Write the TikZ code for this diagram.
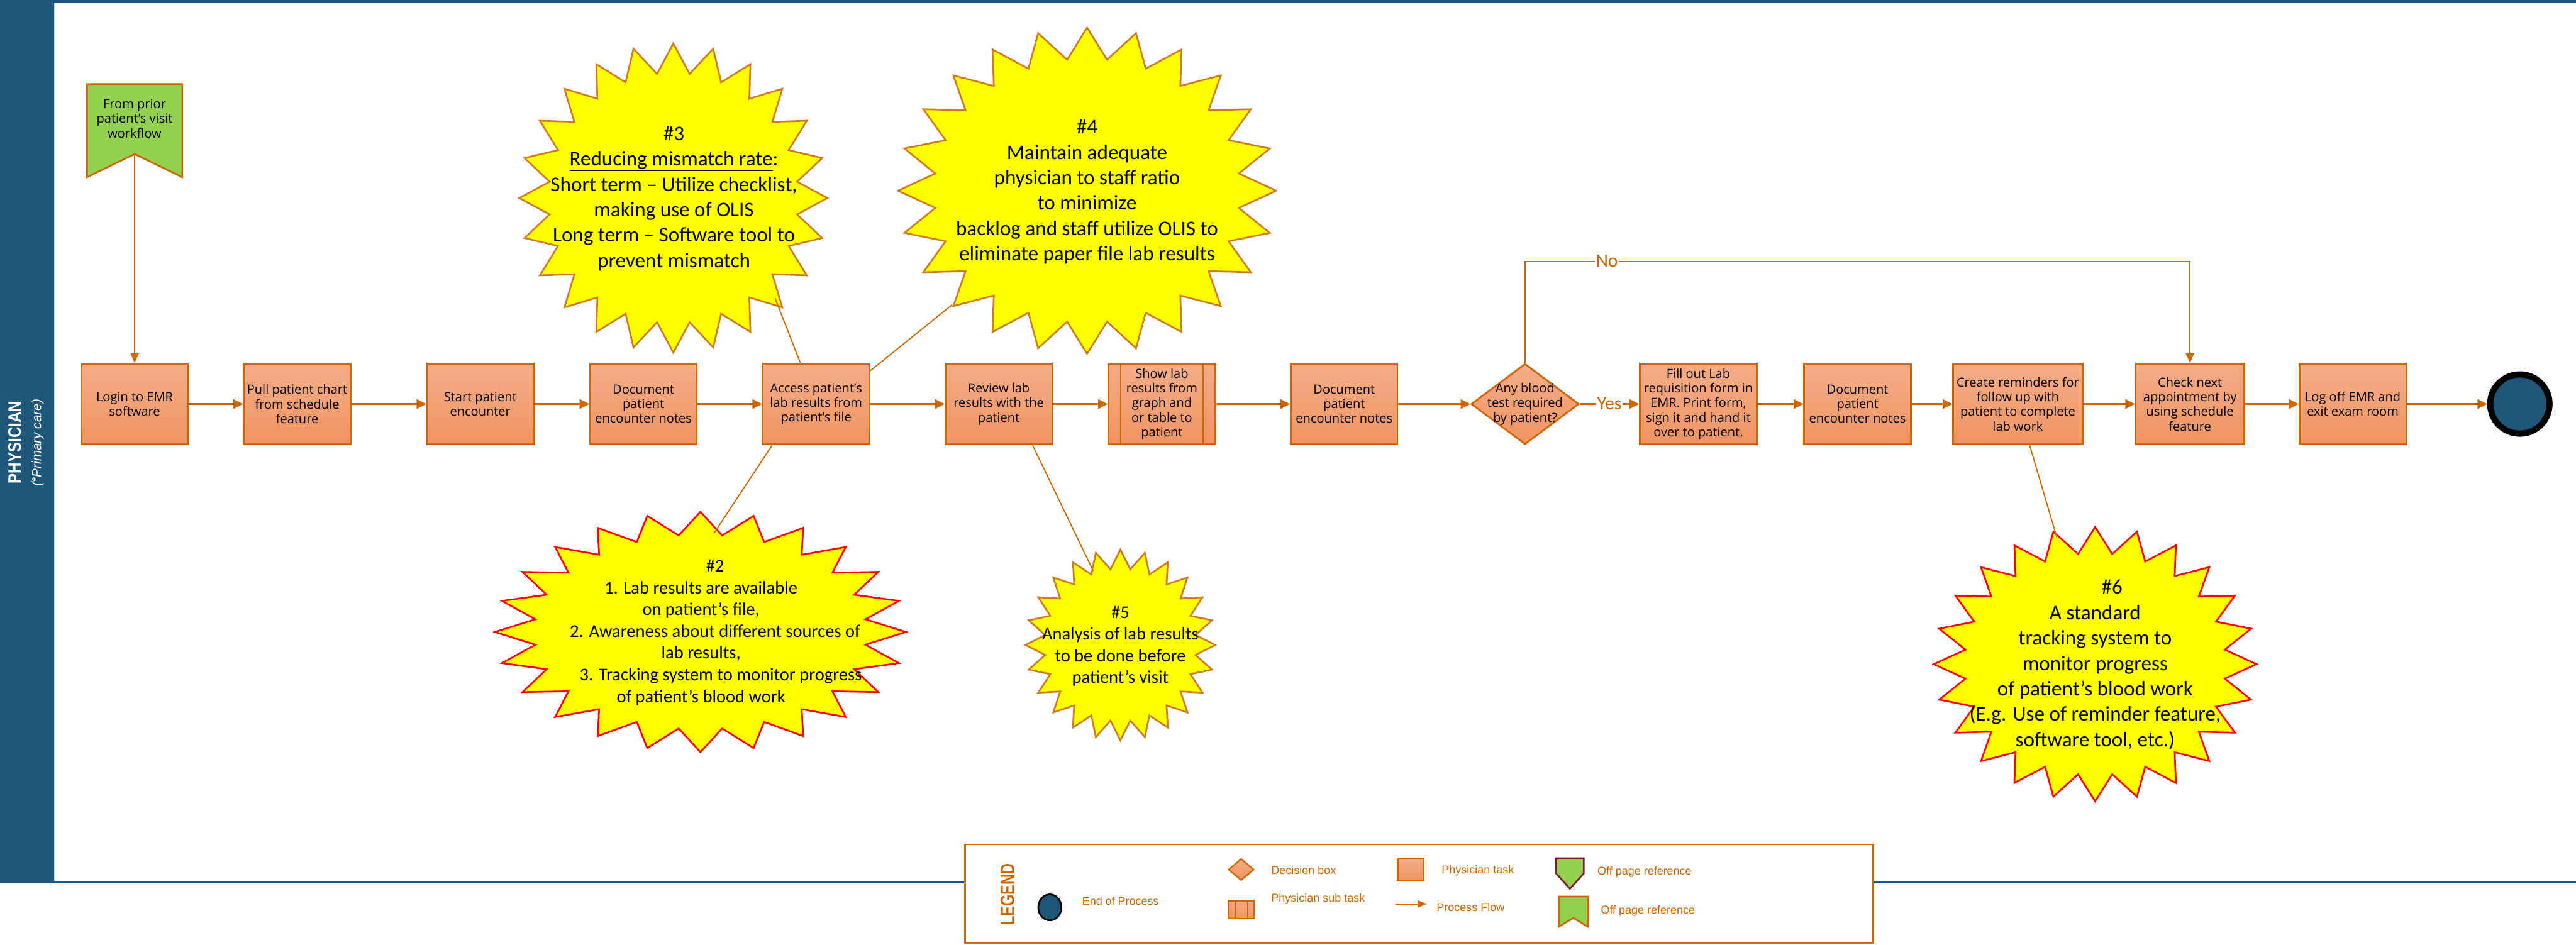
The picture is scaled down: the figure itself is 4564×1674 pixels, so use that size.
\documentclass[tikz,border=0pt]{standalone}
\usepackage{fontspec}
\usepackage{graphicx}
\setmainfont{Open Sans}
\newfontfamily\calib{Carlito}
\newfontfamily\arialf{Liberation Sans}
\usetikzlibrary{arrows.meta,shapes.geometric,calc}

\definecolor{laneblue}{RGB}{31,87,122}
\definecolor{lanerim}{RGB}{200,212,222}
\definecolor{lineorange}{RGB}{204,102,0}
\definecolor{boxtop}{RGB}{244,173,137}
\definecolor{boxbot}{RGB}{240,148,96}
\definecolor{refgreen}{RGB}{146,208,80}
\definecolor{burstyellow}{RGB}{255,255,0}
\definecolor{burstorange}{RGB}{206,124,34}
\definecolor{burstred}{RGB}{255,0,0}
\definecolor{refred}{RGB}{120,32,48}

\newcommand{\taskfont}{\fontsize{12.7pt}{14.8pt}\selectfont}
\newcommand{\bigburstfont}{\calib\fontsize{21pt}{25.6pt}\selectfont}
\newcommand{\smallburstfont}{\calib\fontsize{18.1pt}{21.9pt}\selectfont}
\newcommand{\yesnofont}{\calib\fontsize{18.8pt}{22pt}\selectfont}
\newcommand{\legendtextfont}{\arialf\fontsize{11.4pt}{13pt}\selectfont}
\newcommand{\legendtitlefont}{\arialf\bfseries\fontsize{19.9pt}{24pt}\selectfont}
\newcommand{\lanefont}{\arialf\bfseries\fontsize{18.2pt}{22pt}\selectfont}
\newcommand{\lanesubfont}{\arialf\itshape\fontsize{13.1pt}{16pt}\selectfont}

% 24-point star on an ellipse: cx, cy, rx, ry, outline colour, inner/outer ratio
\newcommand{\drawburst}[6]{%
  \draw[burst, draw=#5] plot[samples=49, domain=0:48, variable=\idx]
    ({#1+#3*(1-(1-#6)*mod(\idx,2))*cos(90+7.5*\idx)},
     {#2-#4*(1-(1-#6)*mod(\idx,2))*sin(90+7.5*\idx)}) -- cycle;}

\begin{document}
\begin{tikzpicture}[x=0.2mm,y=-0.2mm,
  task/.style={rectangle, draw=lineorange, line width=0.6mm, top color=boxtop,
    bottom color=boxbot, minimum width=37.8mm, minimum height=28.6mm,
    inner sep=0pt, align=center, font=\taskfont},
  decision/.style={diamond, draw=lineorange, line width=0.6mm, top color=boxtop,
    bottom color=boxbot, minimum width=38.2mm, minimum height=28.6mm, inner sep=0pt},
  flow/.style={draw=lineorange, line width=0.5mm, -{Triangle[length=3.4mm, width=3.4mm]}},
  thinflow/.style={draw=lineorange, line width=0.4mm, -{Triangle[length=3.4mm, width=3mm]}},
  link/.style={draw=lineorange, line width=0.4mm},
  flowlabel/.style={fill=white, text=lineorange, font=\yesnofont, inner sep=1pt},
  burst/.style={fill=burstyellow, line width=0.6mm, line join=miter},
  bursttext/.style={align=center, inner sep=0pt, text=black},
  legtext/.style={anchor=west, inner sep=0pt, text=lineorange, font=\legendtextfont},
  legshape/.style={draw=lineorange, line width=0.5mm, top color=boxtop,
    bottom color=boxbot, inner sep=0pt},
  legflow/.style={draw=lineorange, line width=0.5mm, -{Triangle[length=3.2mm, width=2.4mm]}}
]
\useasboundingbox (0,0) rectangle (4564,1674);
\fill[white] (0,0) rectangle (4564,1674);

% swimlane
\fill[laneblue] (0,0) rectangle (96,1563);
\fill[laneblue] (0,0) rectangle (4564,6);
\draw[laneblue, line width=0.8mm] (0,1563) -- (4564,1563);
\draw[lanerim, line width=0.4mm] (97,6) -- (97,1561);
\node[rotate=90, text=white, font=\lanefont] (lanename) at (26,784) {\scalebox{0.84}[1]{PHYSICIAN}};
\node[rotate=90, text=white, font=\lanesubfont] (lanenote) at (67,785) {(*Primary care)};

% improvement notes
\drawburst{1193}{351}{273}{274}{burstorange}{0.81}
\drawburst{1926}{338}{335}{289}{burstorange}{0.81}
\drawburst{1241}{1120}{364}{213}{burstred}{0.81}
\drawburst{1985}{1143}{168}{169}{burstorange}{0.80}
\drawburst{3712}{1177}{286}{243}{burstred}{0.81}

\node[bursttext, font=\bigburstfont] (note3) at (1194,352)
  {\#3\\\underline{Reducing mismatch rate}:\\Short term – Utilize checklist,\\making use of OLIS\\Long term – Software tool to\\prevent mismatch};
\node[bursttext, font=\bigburstfont] (note4) at (1926,340)
  {\#4\\Maintain adequate\\physician to staff ratio\\to minimize\\backlog and staff utilize OLIS to\\eliminate paper file lab results};
\node[bursttext, font=\smallburstfont] (note2) at (1242,1121)
  {\hspace*{10mm}\#2\\1. Lab results are available\\on patient’s file,\\\hspace*{10mm}2. Awareness about different sources of\\lab results,\\\hspace*{14mm}3. Tracking system to monitor progress\\of patient’s blood work};
\node[bursttext, font=\smallburstfont] (note5) at (1985,1145)
  {\#5\\Analysis of lab results\\to be done before\\patient’s visit};
\node[bursttext, font=\bigburstfont] (note6) at (3712,1178)
  {\hspace*{12mm}\#6\\A standard\\tracking system to\\monitor progress\\of patient’s blood work\\(E.g. Use of reminder feature,\\software tool, etc.)};

\coordinate (note3foot) at (1373,528);
\coordinate (note4foot) at (1687,540);
\coordinate (note2top) at (1265,945);
\coordinate (note5top) at (1937,1012);
\coordinate (note6top) at (3644,952);

% off page reference at the start
\draw[lineorange, line width=0.6mm, fill=refgreen]
  (154,149) -- (323,149) -- (323,314) -- (238.5,273) -- (154,314) -- cycle;
\node[font=\taskfont, align=center, inner sep=0pt] (prior) at (238.5,210) {From prior\\patient’s visit\\workflow};
\coordinate (priornotch) at (238.5,273);

% physician tasks
\node[task] (login) at (238.5,716) {Login to EMR\\software};
\node[task] (pull) at (526.5,716) {Pull patient chart\\from schedule\\feature};
\node[task] (start) at (851,716) {Start patient\\encounter};
\node[task] (doc1) at (1140,716) {Document\\patient\\encounter notes};
\node[task] (access) at (1446,716) {Access patient’s\\lab results from\\patient’s file};
\node[task] (review) at (1769.5,716) {Review lab\\results with the\\patient};
\node[task] (show) at (2058.5,716) {Show lab\\results from\\graph and\\or table to\\patient};
\draw[lineorange, line width=0.6mm] ($(show.north west)+(23,0)$) -- ($(show.south west)+(23,0)$);
\draw[lineorange, line width=0.6mm] ($(show.north east)+(-23,0)$) -- ($(show.south east)+(-23,0)$);
\node[task] (doc2) at (2381.5,716) {Document\\patient\\encounter notes};
\node[decision] (dia) at (2702,716) {};
\node[font=\taskfont, align=center, inner sep=0pt] (diatext) at (dia) {Any blood\\test required\\by patient?};
\node[task, minimum width=41.4mm] (fill) at (3009,716) {Fill out Lab\\requisition form in\\EMR. Print form,\\sign it and hand it\\over to patient.};
\node[task] (doc3) at (3291,716) {Document\\patient\\encounter notes};
\node[task, minimum width=45.8mm] (create) at (3575,716) {Create reminders for\\follow up with\\patient to complete\\lab work};
\node[task, minimum width=38.4mm] (check) at (3880,716) {Check next\\appointment by\\using schedule\\feature};
\node[task] (logoff) at (4168.5,716) {Log off EMR and\\exit exam room};
\node[circle, draw=black, line width=2.2mm, fill=laneblue, minimum size=21mm, inner sep=0pt] (endc) at (4464.5,716) {};

% note connectors
\draw[link] ($(access.north)+(-28,0)$) -- (note3foot);
\draw[link] ($(access.north east)+(0,14)$) -- (note4foot);
\draw[link] ($(access.south)+(-78,0)$) -- (note2top);
\draw[link] ($(review.south)+(60,0)$) -- (note5top);
\draw[link] ($(create.south)+(21,0)$) -- (note6top);

% process flow
\draw[thinflow] (priornotch) -- (login);
\draw[flow] (login) -- (pull);
\draw[flow] (pull) -- (start);
\draw[flow] (start) -- (doc1);
\draw[flow] (doc1) -- (access);
\draw[flow] (access) -- (review);
\draw[flow] (review) -- (show);
\draw[flow] (show) -- (doc2);
\draw[flow] (doc2) -- (dia);
\draw[flow] (dia) -- node[flowlabel] {Yes} (fill);
\draw[flow] (fill) -- (doc3);
\draw[flow] (doc3) -- (create);
\draw[flow] (create) -- (check);
\draw[flow] (check) -- (logoff);
\draw[flow] (logoff) -- (endc);
\coordinate (nobend) at (2702,463);
\draw[thinflow] (dia.north) -- (nobend) -| node[flowlabel, pos=0.0616] {No} (check.north);

% legend
\node[draw=lineorange, line width=0.6mm, fill=white, minimum width=321.8mm,
  minimum height=34.8mm, inner sep=0pt] (legendbox) at (2514,1583.5) {};
\node[rotate=90, text=lineorange, font=\legendtitlefont, inner sep=0pt] (legtitle) at (1785,1585) {\scalebox{0.75}[1]{LEGEND}};
\node[ellipse, draw=black, line width=0.6mm, fill=laneblue, minimum width=8.2mm,
  minimum height=9.2mm, inner sep=0pt] (legend) at (1860,1608) {};
\node[legtext] (legendtxt) at (1917,1597) {End of Process};
\node[legshape, diamond, minimum width=9.1mm, minimum height=7.7mm] (legdia) at (2199,1541) {};
\node[legtext] (legdiatxt) at (2252,1542) {Decision box};
\node[legshape, rectangle, minimum width=9.1mm, minimum height=6.3mm] (legsub) at (2199,1612) {};
\draw[lineorange, line width=0.4mm] ($(legsub.north west)+(13,0)$) -- ($(legsub.south west)+(13,0)$);
\draw[lineorange, line width=0.4mm] ($(legsub.north east)+(-13,0)$) -- ($(legsub.south east)+(-13,0)$);
\node[legtext] (legsubtxt) at (2252,1593) {Physician sub task};
\node[legshape, rectangle, minimum width=9.2mm, minimum height=7.7mm] (legtask) at (2499.5,1541.5) {};
\node[legtext] (legtasktxt) at (2554,1543) {Physician task};
\coordinate (legflowa) at (2473,1602);
\coordinate (legflowb) at (2528,1602);
\draw[legflow] (legflowa) -- (legflowb);
\node[legtext] (legflowtxt) at (2545,1608) {Process Flow};
\draw[refred, line width=0.6mm, fill=refgreen]
  (2757,1521) -- (2806,1521) -- (2806,1548) -- (2781.5,1575) -- (2757,1548) -- cycle;
\node[legtext] (legref1txt) at (2830,1545) {Off page reference};
\draw[lineorange, line width=0.6mm, fill=refgreen]
  (2762,1589) -- (2813,1589) -- (2813,1642) -- (2787.5,1627) -- (2762,1642) -- cycle;
\node[legtext] (legref2txt) at (2836,1614) {Off page reference};
\end{tikzpicture}
\end{document}
